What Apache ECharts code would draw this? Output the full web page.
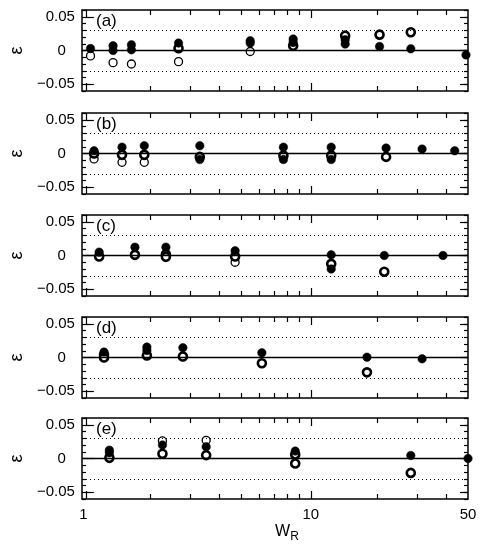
<!DOCTYPE html>
<html>
<head>
<meta charset="utf-8">
<script src="https://cdn.jsdelivr.net/npm/echarts@6/dist/echarts.min.js"></script>
<style>
html, body { margin: 0; padding: 0; background: #fff; }
#main { width: 483px; height: 545px; }
</style>
</head>
<body>
<div id="main"></div>
<script>
// data points: [W_R, epsilon]
const panelNames = ['(a)', '(b)', '(c)', '(d)', '(e)'];

const filledA = [[1.09, 0.003], [1.37, 0.007], [1.37, 0], [1.65, 0.0085], [1.65, 0.001], [2.66, 0.011], [5.5, 0.0145], [5.5, 0.011], [8.5, 0.017], [8.5, 0.012], [14.4, 0.016], [14.4, 0.0095], [20.4, 0.006], [28, 0.0025], [49, -0.0065]];
const halfA = [[2.66, 0.0035], [8.5, 0.007], [14.4, 0.022], [20.4, 0.0235], [28, 0.027]];
const openA = [[1.09, -0.008], [1.37, -0.018], [1.65, -0.02], [2.66, -0.0165], [5.5, -0.0015]];

const filledB = [[1.13, 0.004], [1.5, 0.0094], [1.88, 0.0115], [3.3, 0.0115], [3.3, -0.009], [7.7, 0.0094], [7.7, -0.009], [12.5, 0.0094], [12.5, -0.009], [21.8, 0.008], [31.4, 0.0065], [43.7, 0.004]];
const halfB = [[1.13, 0], [1.5, -0.002], [1.88, -0.002], [3.3, -0.005], [7.7, -0.003], [12.5, -0.003], [21.8, -0.005]];
const openB = [[1.13, -0.008], [1.5, -0.013], [1.88, -0.013]];

const filledC = [[1.19, 0.005], [1.71, 0.0124], [2.34, 0.0124], [4.72, 0.007], [12.5, 0.001], [12.5, -0.02], [21.4, 0], [38.8, 0]];
const halfC = [[1.19, -0.0015], [1.71, 0.001], [2.34, 0.002], [2.34, -0.002], [4.72, -0.0015], [12.5, -0.0124], [21.4, -0.024]];
const openC = [[4.72, -0.01]];

const filledD = [[1.25, 0.008], [1.93, 0.0154], [1.93, 0.0104], [2.78, 0.0145], [6.19, 0.007], [17.96, 0.0005], [31.4, -0.002]];
const halfD = [[1.25, 0.004], [1.25, 0], [1.93, 0.003], [2.78, 0.0015], [6.19, -0.0085], [17.96, -0.022]];
const openD = [];

const filledE = [[1.32, 0.0124], [1.32, 0.0085], [2.26, 0.02], [3.52, 0.0175], [8.68, 0.011], [28, 0.0045], [50, 0]];
const halfE = [[1.32, 0.001], [2.26, 0.007], [3.52, 0.005], [8.68, 0.006], [8.68, -0.0075], [28, -0.0213]];
const openE = [[2.26, 0.026], [3.52, 0.027]];

const filled = [filledA, filledB, filledC, filledD, filledE];
const half = [halfA, halfB, halfC, halfD, halfE];
const open = [openA, openB, openC, openD, openE];

// tick positions / labels
const xMajorTicks = [1, 10];
const xMinorTicks = [2, 3, 4, 5, 6, 7, 8, 9, 20, 30, 40];
const xLabels = [1, 10, 50];
const yMajorTicks = [-0.05, 0, 0.05];
const yLabels = [-0.05, 0, 0.05];
const refLines = [0.03, -0.03];

const fontFamily = "'Liberation Sans', Arial, sans-serif";
const tops = [10, 113, 215, 317, 418];
const grid = [], xAxis = [], yAxis = [], series = [], graphic = [];

function xAx(gi, pos, ticks, len, labels) {
  return {
    type: 'log', logBase: 10, min: 1, max: 50, gridIndex: gi, position: pos,
    axisLine: { show: false, onZero: false }, splitLine: { show: false },
    axisTick: { show: true, inside: true, length: len, customValues: ticks, lineStyle: { color: '#000', width: 1.2 } },
    axisLabel: labels ? {
      show: true, customValues: xLabels, color: '#000', fontSize: 15, fontFamily: fontFamily, margin: 8,
      formatter: v => v === 1 ? '{o|1}' : String(v),
      rich: { o: { color: '#000', fontSize: 15, fontFamily: fontFamily, padding: [0, 5, 0, 0] } }
    } : { show: false }
  };
}
function yAx(gi, pos, major, labels) {
  const ax = {
    type: 'value', min: -0.06, max: 0.06, gridIndex: gi, position: pos,
    axisLine: { show: false, onZero: false }, splitLine: { show: false },
    axisTick: { show: true, inside: true, length: major ? 8 : 4, lineStyle: { color: '#000', width: 1.2 } },
    axisLabel: { show: false }
  };
  if (major) ax.axisTick.customValues = yMajorTicks;
  else ax.interval = 0.01;
  if (labels) {
    ax.axisLabel = { show: true, customValues: yLabels, color: '#000', fontSize: 15, fontFamily: fontFamily, margin: 11,
      formatter: v => v === 0 ? '{z|0}' : (v < 0 ? '\u2212' : '') + Math.abs(v).toFixed(2),
      rich: { z: { color: '#000', fontSize: 15, fontFamily: fontFamily, padding: [0, 9, 0, 0] } } };
    ax.name = '\u03b5';
    ax.nameLocation = 'middle';
    ax.nameRotate = 90;
    ax.nameGap = 58;
    ax.nameTextStyle = { color: '#000', fontSize: 18, fontFamily: fontFamily };
  }
  return ax;
}

tops.forEach((top, i) => {
  const last = i === tops.length - 1;
  const rect = { left: 82, right: 15, top: top, height: 81 };
  grid.push(Object.assign({ show: true, borderColor: '#000', borderWidth: 1.5 }, rect));
  grid.push(Object.assign({ show: false }, rect));
  const g = 2 * i, go = 2 * i + 1;
  const xi = xAxis.length, yi = yAxis.length;
  xAxis.push(xAx(g, 'bottom', xMinorTicks, 5, false));
  xAxis.push(xAx(g, 'top', xMinorTicks, 5, false));
  const xb = xAx(go, 'bottom', xMajorTicks, 8, last);
  if (last) {
    xb.name = 'W{s|R}';
    xb.nameLocation = 'middle';
    xb.nameGap = 22;
    xb.nameTextStyle = { color: '#000', fontSize: 16, fontFamily: fontFamily, padding: [0, 0, 0, 20],
      rich: { s: { fontSize: 12, fontFamily: fontFamily, color: '#000', padding: [10, 0, 0, 0] } } };
  }
  xAxis.push(xb);
  xAxis.push(xAx(go, 'top', xMajorTicks, 8, false));
  yAxis.push(yAx(g, 'left', false, false));
  yAxis.push(yAx(g, 'right', false, false));
  yAxis.push(yAx(go, 'left', true, true));
  yAxis.push(yAx(go, 'right', true, false));

  series.push({
    type: 'scatter', xAxisIndex: xi, yAxisIndex: yi, data: open[i], symbolSize: 8, z: 3,
    itemStyle: { color: '#fff', borderColor: '#000', borderWidth: 1.3, opacity: 1 },
    markLine: {
      silent: true, symbol: 'none', label: { show: false }, animation: false,
      data: [{ yAxis: 0, lineStyle: { type: 'solid', color: '#000', width: 1.3 } }].concat(
        refLines.map(v => ({ yAxis: v, lineStyle: { type: [1, 3], color: '#000', width: 1 } })))
    }
  });
  series.push({
    type: 'scatter', xAxisIndex: xi, yAxisIndex: yi, data: half[i], symbolSize: 8, z: 4,
    itemStyle: { color: '#fff', borderColor: '#000', borderWidth: 2.6, opacity: 1 }
  });
  series.push({
    type: 'scatter', xAxisIndex: xi, yAxisIndex: yi, data: filled[i], symbolSize: 8.5, z: 5,
    itemStyle: { color: '#000', borderColor: '#000', borderWidth: 0.5, opacity: 1 }
  });

  graphic.push({
    type: 'text', left: 96, top: top + 3,
    style: { text: panelNames[i], fill: '#000', fontSize: 17, fontFamily: fontFamily }
  });
});

const chart = echarts.init(document.getElementById('main'));
chart.setOption({
  animation: false,
  backgroundColor: '#fff',
  grid: grid,
  xAxis: xAxis,
  yAxis: yAxis,
  series: series,
  graphic: graphic
});
</script>
</body>
</html>
